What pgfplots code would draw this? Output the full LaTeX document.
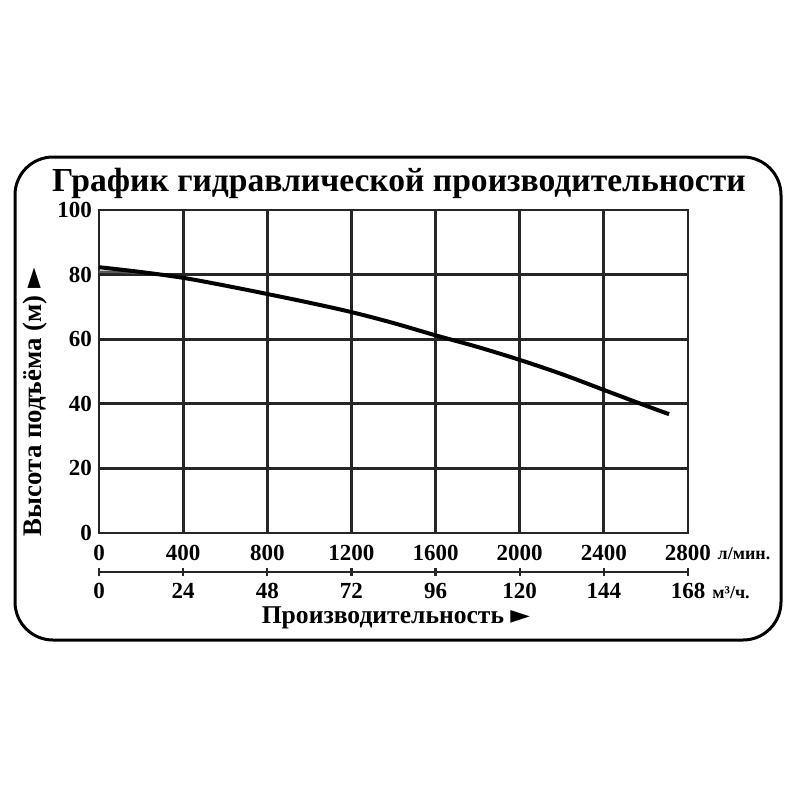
\documentclass[border=0pt]{standalone}
\usepackage{fontspec}
\setmainfont{Liberation Serif}
\newfontfamily\sym{DejaVu Sans}
\usepackage{pgfplots}
\pgfplotsset{compat=1.18}
\begin{document}
\begin{tikzpicture}[x=0.5pt,y=-0.5pt]
\path (0,0) rectangle (800,800);
\coordinate (mainorigin) at (99,533);
\coordinate (secorigin) at (99,572);
% outer frame and title
\draw[line width=1.5pt,rounded corners=19pt] (15,157) rectangle (781,640);
\node[font=\bfseries\fontsize{16.8}{19}\selectfont] at (399,183) {График гидравлической производительности};

% main axis: l/min
\begin{axis}[at={(mainorigin)}, anchor=south west,
    width=294.5pt, height=161.5pt, scale only axis,
    xmin=0, xmax=2800, ymin=0, ymax=100,
    xtick={0,400,...,2800}, ytick={0,20,...,100},
    grid=major,
    major grid style={black!85, line width=1.4pt},
    axis line style={black!85, line width=1.4pt},
    tick style={draw=none},
    ticklabel style={font=\bfseries\fontsize{11.5}{13}\selectfont},
    xticklabel style={text height=7.5pt, text depth=0pt, yshift=-2.5pt},
    /pgf/number format/assume math mode=true,
    /pgf/number format/set thousands separator={},
    clip=false]
\addplot[black!65, line width=1.2pt] coordinates {(0,80.9)(100,80.8)(200,80.5)};
\addplot[black, line width=2pt, smooth] coordinates {
  (0,82.3)(200,80.8)(400,79)(600,76.6)(800,74)(1000,71.3)(1200,68.4)
  (1400,65)(1600,61.2)(1800,57.6)(2000,53.6)(2200,49.2)(2400,44.3)
  (2600,39.4)(2710,36.8)};
\end{axis}

% secondary scale: m3/h
\begin{axis}[at={(secorigin)}, anchor=south west,
    width=294.5pt, height=1pt, scale only axis,
    xmin=0, xmax=168, ymin=0, ymax=1,
    axis x line=bottom, axis y line=none,
    x axis line style={-, black!85, line width=1.2pt},
    xtick={0,24,...,168}, ytick=\empty,
    major tick length=4pt, tick align=center,
    tick style={black!85, line width=1.2pt},
    ticklabel style={font=\bfseries\fontsize{11.5}{13}\selectfont},
    xticklabel style={text height=7.5pt, text depth=0pt},
    /pgf/number format/assume math mode=true]
\end{axis}

% units and axis titles
\node[font=\bfseries\fontsize{9}{10}\selectfont] at (744,554) {л/мин.};
\node[font=\bfseries\fontsize{9}{10}\selectfont] at (731,593) {м³/ч.};
\node[font=\bfseries\fontsize{12.8}{15}\selectfont] at (396,618) {Производительность {\sym ►}};
\node[rotate=90, font=\bfseries\fontsize{13.4}{15}\selectfont] at (35,402) {Высота подъёма (м) {\sym ►}};
\end{tikzpicture}
\end{document}
